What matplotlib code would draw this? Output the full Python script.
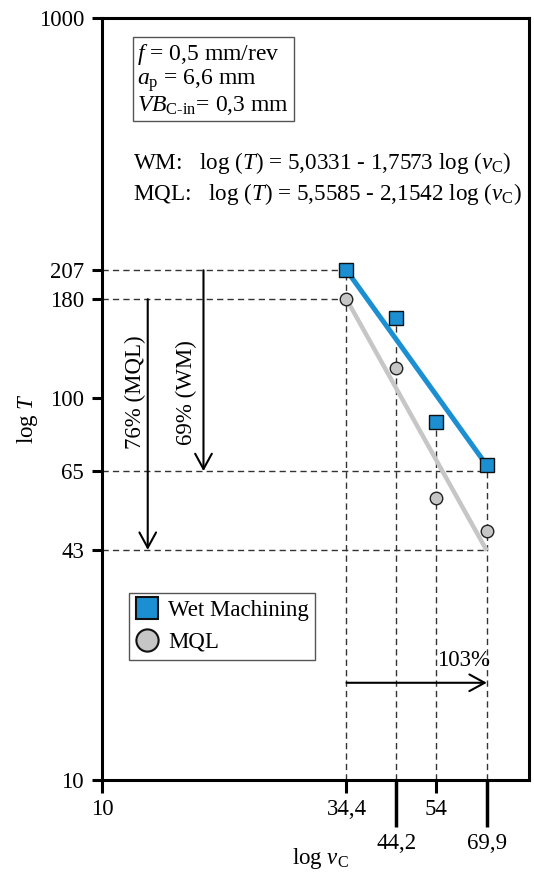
import matplotlib.pyplot as plt
from matplotlib.ticker import FixedLocator, FixedFormatter
from matplotlib.lines import Line2D

plt.rcParams['font.family'] = ['Liberation Serif', 'DejaVu Serif']
plt.rcParams['mathtext.fontset'] = 'custom'
plt.rcParams['mathtext.rm'] = 'Liberation Serif'
plt.rcParams['mathtext.it'] = 'Liberation Serif:italic'

# data
vc = [34.4, 44.2, 54, 69.9]
t_wm = [218, 163, 87, 67]
t_mql = [183, 121, 55, 45]
fit_vc = [34.4, 69.9]
fit_wm = [218, 67]
fit_mql = [183, 40]

x_short = [10, 34.4, 54]
x_short_labels = ['10', '34,4', '54']
x_long = [44.2, 69.9]
x_long_labels = ['44,2', '69,9']
y_ticks = [10, 40.2, 64.7, 101, 183, 218, 1000]
y_labels = ['10', '43', '65', '100', '180', '207', '1000']

blue = '#1b8fd2'
grey = '#c6c6c6'
dash = '#333333'
fs = 16.5

fig = plt.figure(figsize=(5.34, 8.72), dpi=100)
ax = fig.add_axes([0.191, 0.1055, 0.7996, 0.8735])
ax.set_xscale('log')
ax.set_yscale('log')
ax.set_xlim(10, 86.5)
ax.set_ylim(10, 1000)

# guide lines
ls = (0, (4.5, 3))
ax.plot([10, vc[0]], [y_ticks[5], y_ticks[5]], color=dash, lw=1, ls=ls)
ax.plot([10, vc[0]], [y_ticks[4], y_ticks[4]], color=dash, lw=1, ls=ls)
ax.plot([10, vc[3]], [y_ticks[2], y_ticks[2]], color=dash, lw=1, ls=ls)
ax.plot([10, vc[3]], [y_ticks[1], y_ticks[1]], color=dash, lw=1, ls=ls)
for x, t in zip(vc, t_wm):
    ax.plot([x, x], [10, t], color=dash, lw=1, ls=ls)

# fitted lines and measurements
ax.plot(fit_vc, fit_mql, color=grey, lw=3.2, solid_capstyle='butt', zorder=3)
ax.plot(fit_vc, fit_wm, color=blue, lw=3.6, solid_capstyle='butt', zorder=3)
ax.plot(vc, t_mql, 'o', ms=9, mfc=grey, mec='#222222', mew=1, zorder=4)
ax.plot(vc, t_wm, 's', ms=9.5, mfc=blue, mec='#111111', mew=1, zorder=4)

# arrows
arr = dict(arrowstyle='->,head_length=0.55,head_width=0.3', lw=1.5,
           color='black', shrinkA=0, shrinkB=0, mutation_scale=20)
ax.annotate('', xy=(12.6, y_ticks[1]), xytext=(12.6, y_ticks[4]), arrowprops=arr)
ax.annotate('', xy=(16.7, y_ticks[2]), xytext=(16.7, y_ticks[5]), arrowprops=arr)
ax.annotate('', xy=(vc[3], 18), xytext=(vc[0], 18), arrowprops=arr)
ax.text(11.85, 104, '76% (MQL)', rotation=90, ha='center', va='center', fontsize=fs)
ax.text(15.3, 104, '69% (WM)', rotation=90, ha='center', va='center', fontsize=fs)
ax.text(vc[3] + 1, 19.3, '103%', ha='right', va='bottom', fontsize=fs)

# parameter box and equations
ax.text(0.083, 0.969, '$f$ = 0,5 mm/rev\n$a_\\mathrm{p}$ = 6,6 mm\n$VB_\\mathrm{C\\text{-}in}$= 0,3 mm',
        transform=ax.transAxes, ha='left', va='top', fontsize=17, linespacing=1.0,
        bbox=dict(boxstyle='square,pad=0.18', fc='white', ec='#555555', lw=1))
ax.text(0.072, 0.802, 'WM:   log ($T$) = 5,0331 - 1,7573 log ($v_\\mathrm{C}$)',
        transform=ax.transAxes, ha='left', va='baseline', fontsize=16.7)
ax.text(0.072, 0.762, 'MQL:   log ($T$) = 5,5585 - 2,1542 log ($v_\\mathrm{C}$)',
        transform=ax.transAxes, ha='left', va='baseline', fontsize=16.7)

# legend
handles = [Line2D([], [], ls='none', marker='s', ms=16, mfc=blue, mec='#111111', mew=1.5),
           Line2D([], [], ls='none', marker='o', ms=16, mfc=grey, mec='#111111', mew=1.5)]
leg = ax.legend(handles, ['Wet Machining', 'MQL'], loc='upper left',
                bbox_to_anchor=(0.063, 0.245), borderaxespad=0, fontsize=16.5,
                handlelength=1.0, handletextpad=0.4, borderpad=0.3,
                labelspacing=0.45, fancybox=False, framealpha=1)
leg.get_frame().set_edgecolor('#555555')
leg.get_frame().set_linewidth(1)

# axes styling
for s in ax.spines.values():
    s.set_linewidth(2.2)
ax.xaxis.set_major_locator(FixedLocator(x_long))
ax.xaxis.set_major_formatter(FixedFormatter(x_long_labels))
ax.xaxis.set_minor_locator(FixedLocator(x_short))
ax.xaxis.set_minor_formatter(FixedFormatter(x_short_labels))
ax.tick_params(axis='x', which='major', direction='out', length=34, width=2.5,
               labelsize=fs, pad=4)
ax.tick_params(axis='x', which='minor', direction='out', length=9, width=2.2,
               labelsize=fs, pad=5)
ax.yaxis.set_major_locator(FixedLocator(y_ticks))
ax.yaxis.set_major_formatter(FixedFormatter(y_labels))
ax.yaxis.set_minor_locator(FixedLocator([]))
ax.tick_params(axis='y', which='major', direction='out', length=7, width=2.2,
               labelsize=fs, pad=6)

fig.text(28 / 534, 1 - 418 / 872, 'log $T$', rotation=90, ha='center', va='center', fontsize=fs)
fig.text(320 / 534, 1 - 858 / 872, 'log $v_\\mathrm{C}$', ha='center', va='center', fontsize=fs)

fig.savefig('out.png', dpi=100)
